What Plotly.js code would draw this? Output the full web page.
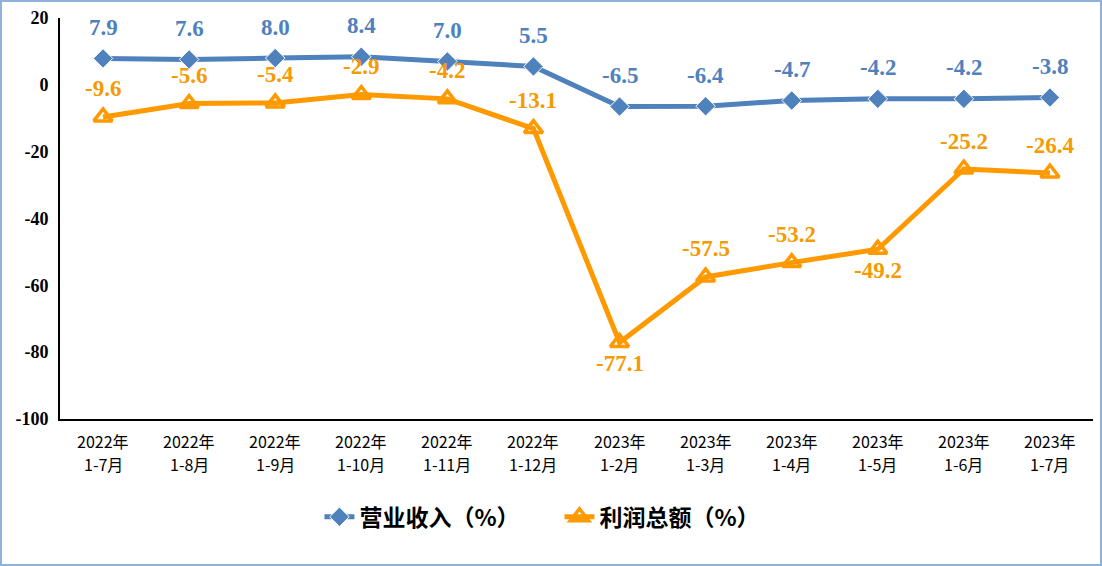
<!DOCTYPE html>
<html><head><meta charset="utf-8">
<script src="https://cdn.plot.ly/plotly-3.0.1.min.js"></script>
<style>
body{margin:0;padding:0;background:#fff;}
#wrap{position:relative;width:1102px;height:566px;}
#chart{position:absolute;left:0;top:0;width:1102px;height:566px;}
#frame{position:absolute;left:0;top:0;width:1102px;height:566px;box-sizing:border-box;border:2px solid #8EB1DD;pointer-events:none;}
</style></head>
<body><div id="wrap"><div id="chart"></div><div id="frame"></div></div>
<script>
var yearLabels = ["2022年","2022年","2022年","2022年","2022年","2022年","2023年","2023年","2023年","2023年","2023年","2023年"];
var monthLabels = ["1-7月","1-8月","1-9月","1-10月","1-11月","1-12月","1-2月","1-3月","1-4月","1-5月","1-6月","1-7月"];
var revenue = [7.9, 7.6, 8.0, 8.4, 7.0, 5.5, -6.5, -6.4, -4.7, -4.2, -4.2, -3.8];
var profit = [-9.6, -5.6, -5.4, -2.9, -4.2, -13.1, -77.1, -57.5, -53.2, -49.2, -25.2, -26.4];
var profitLabelBelow = [false,false,false,false,false,false,true,false,false,true,false,false];
var yTicks = [20, 0, -20, -40, -60, -80, -100];

var blue = '#4F81BD', orange = '#FF9900', orangeText = '#F59A00';
var xs = yearLabels.map(function(_, i){ return i; });

var traces = [
  {x: xs, y: revenue, name: '营业收入（%）', mode: 'lines+markers', type: 'scatter',
   line: {color: blue, width: 5}, marker: {symbol: 'diamond', size: 15, color: blue, line:{color:'#fff', width:1}}},
  {x: xs, y: profit, name: '利润总额（%）', mode: 'lines+markers', type: 'scatter',
   line: {color: orange, width: 5}, marker: {symbol: 'triangle-up-open', size: 16, color: orange, line:{color: orange, width: 3.5}}}
];

var annotations = [];
revenue.forEach(function(v, i){
  annotations.push({x: i, y: v, xref:'x', yref:'y', text: v.toFixed(1), showarrow:false, yshift: 31,
    font:{family:'Liberation Serif', size:23, color: blue, weight:'bold'}});
});
profit.forEach(function(v, i){
  annotations.push({x: i, y: v, xref:'x', yref:'y', text: v.toFixed(1), showarrow:false, yshift: profitLabelBelow[i] ? -21 : 28,
    font:{family:'Liberation Serif', size:23, color: orangeText, weight:'bold'}});
});
var tickFont = {family: 'Noto Sans CJK SC', size: 16, color: '#000'};
yearLabels.forEach(function(t, i){
  annotations.push({x: i, y: -0.0549, xref:'x', yref:'paper', text: t, showarrow:false, yanchor:'middle', font: tickFont});
});
monthLabels.forEach(function(t, i){
  annotations.push({x: i, y: -0.1122, xref:'x', yref:'paper', text: t, showarrow:false, yanchor:'middle', font: tickFont});
});

var layout = {
  width: 1102, height: 566,
  margin: {l: 60, r: 9, t: 18, b: 147},
  paper_bgcolor: '#fff', plot_bgcolor: '#fff',
  showlegend: true,
  legend: {orientation: 'h', x: 0.4835, xanchor: 'center', y: -0.244, yanchor: 'middle',
    entrywidth: 195, entrywidthmode: 'pixels', itemwidth: 30,
    font: {family: 'Noto Sans CJK SC', size: 23, color: '#000', weight: 'bold'}, traceorder: 'normal'},
  xaxis: {
    range: [-0.5, 11.5], showticklabels: false,
    showgrid: false, zeroline: false, showline: true, linecolor: '#000', linewidth: 2,
    ticks: '', fixedrange: true
  },
  yaxis: {
    range: [-100, 20], tickmode: 'array', tickvals: yTicks, ticktext: yTicks.map(String),
    showgrid: false, zeroline: false, showline: true, linecolor: '#000', linewidth: 2,
    ticks: '', ticklabelstandoff: 6,
    tickfont: {family: 'Liberation Serif', size: 18, color: '#000', weight: 'bold'}, fixedrange: true
  },
  annotations: annotations
};

Plotly.newPlot('chart', traces, layout, {displayModeBar: false, staticPlot: true});
</script></body></html>
